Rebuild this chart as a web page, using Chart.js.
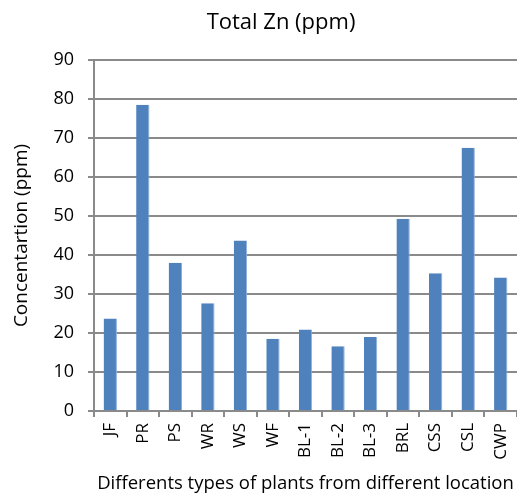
<!DOCTYPE html>
<html>
<head>
<meta charset="utf-8">
<script src="https://cdn.jsdelivr.net/npm/chart.js@4"></script>
<style>
  html, body { margin: 0; padding: 0; background: #fff; }
  #wrap { width: 517px; height: 495px; }
</style>
</head>
<body>
<div id="wrap"><canvas id="myChart" width="517" height="495"></canvas></div>
<script>
const categories = ['JF', 'PR', 'PS', 'WR', 'WS', 'WF', 'BL-1', 'BL-2', 'BL-3', 'BRL', 'CSS', 'CSL', 'CWP'];
const znValues = [23.7, 78.5, 38.0, 27.6, 43.7, 18.5, 20.9, 16.6, 19.0, 49.3, 35.3, 67.5, 34.2];
const yTicks = [0, 10, 20, 30, 40, 50, 60, 70, 80, 90];

const fontFamily = "'Open Sans', sans-serif";
const gridColor = '#8a8a8a';
const chartTitle = 'Total Zn (ppm)';

// the title sits a bit right of the canvas centre, like the original
const titlePlugin = {
  id: 'offsetTitle',
  afterDraw(chart) {
    const c = chart.ctx;
    c.save();
    c.font = `22px ${fontFamily}`;
    c.fillStyle = '#000';
    c.textAlign = 'center';
    c.textBaseline = 'middle';
    c.fillText(chartTitle, 281, 23);
    c.restore();
  }
};

const ctx = document.getElementById('myChart').getContext('2d');

new Chart(ctx, {
  type: 'bar',
  data: {
    labels: categories,
    datasets: [{
      label: chartTitle,
      data: znValues,
      backgroundColor: '#4F81BD',
      borderColor: '#8EB0DA',
      borderWidth: { top: 0, left: 0, bottom: 0, right: 1 },
      borderSkipped: false,
      categoryPercentage: 1,
      barPercentage: 0.41
    }]
  },
  plugins: [titlePlugin],
  options: {
    responsive: false,
    animation: false,
    layout: { padding: { top: 60, left: 0, right: 0, bottom: 0 } },
    plugins: {
      legend: { display: false },
      tooltip: { enabled: false },
      title: { display: false }
    },
    scales: {
      x: {
        afterFit: (axis) => {
          axis.height = 84;
          axis.paddingLeft = 0;
          axis.paddingRight = 0;
        },
        grid: {
          display: true,
          drawOnChartArea: false,
          offset: true,
          color: gridColor,
          lineWidth: 2,
          tickLength: 6
        },
        border: { color: gridColor, width: 2 },
        ticks: {
          color: '#000',
          font: { family: fontFamily, size: 17 },
          minRotation: 90,
          maxRotation: 90,
          padding: 6
        },
        title: {
          display: true,
          text: 'Differents types of plants from different location',
          color: '#000',
          font: { family: fontFamily, size: 18.5 },
          padding: { top: 0, bottom: 0 }
        }
      },
      y: {
        min: 0,
        max: 90,
        afterFit: (axis) => {
          axis.width = 94;
        },
        afterBuildTicks: (axis) => {
          axis.ticks = yTicks.map(v => ({ value: v }));
        },
        grid: {
          color: gridColor,
          lineWidth: 2,
          tickLength: 6
        },
        border: { color: gridColor, width: 2 },
        ticks: {
          color: '#000',
          font: { family: fontFamily, size: 18 },
          padding: 14
        },
        title: {
          display: true,
          text: 'Concentartion (ppm)',
          color: '#000',
          font: { family: fontFamily, size: 19 },
          padding: { top: 10, bottom: 0 }
        }
      }
    }
  }
});
</script>
</body>
</html>
